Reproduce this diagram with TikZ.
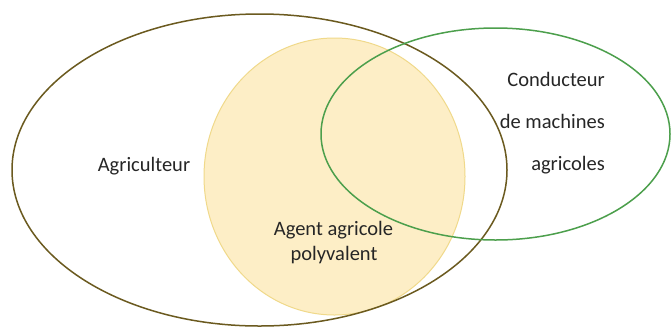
\documentclass[tikz,border=0pt]{standalone}
\usepackage{fontspec}
\setmainfont{Carlito}
\definecolor{brownline}{HTML}{6B5A1F}
\definecolor{greenline}{HTML}{4C9F4C}
\definecolor{yellowfill}{HTML}{FDEEC6}
\definecolor{yellowline}{HTML}{F0D98A}
\definecolor{txt}{HTML}{262626}
\tikzset{
  lbl/.style={font=\fontsize{20.5}{24}\selectfont, text=txt, inner sep=0pt},
}
\begin{document}
\begin{tikzpicture}[x=1pt,y=-1pt]
\useasboundingbox (0,0) rectangle (671,327);
\fill[white] (0,0) rectangle (671,327);
\draw[yellowline, fill=yellowfill, line width=1pt] (334.5,176.5) ellipse [x radius=130.5, y radius=138.5];
\draw[brownline, line width=1.5pt] (259.5,170) ellipse [x radius=247.5, y radius=156];
\draw[greenline, line width=1.5pt] (495.5,134) ellipse [x radius=174.5, y radius=106];
\node[lbl, anchor=base] (agri) at (144,171.7) {Agriculteur};
\node[lbl, anchor=base east] (c1) at (605,86.7) {Conducteur};
\node[lbl, anchor=base east] (c2) at (605,128.3) {de machines};
\node[lbl, anchor=base east] (c3) at (605,170) {agricoles};
\node[lbl, anchor=base] (a1) at (333.5,235) {Agent agricole};
\node[lbl, anchor=base] (a2) at (334,260) {polyvalent};
\end{tikzpicture}
\end{document}
